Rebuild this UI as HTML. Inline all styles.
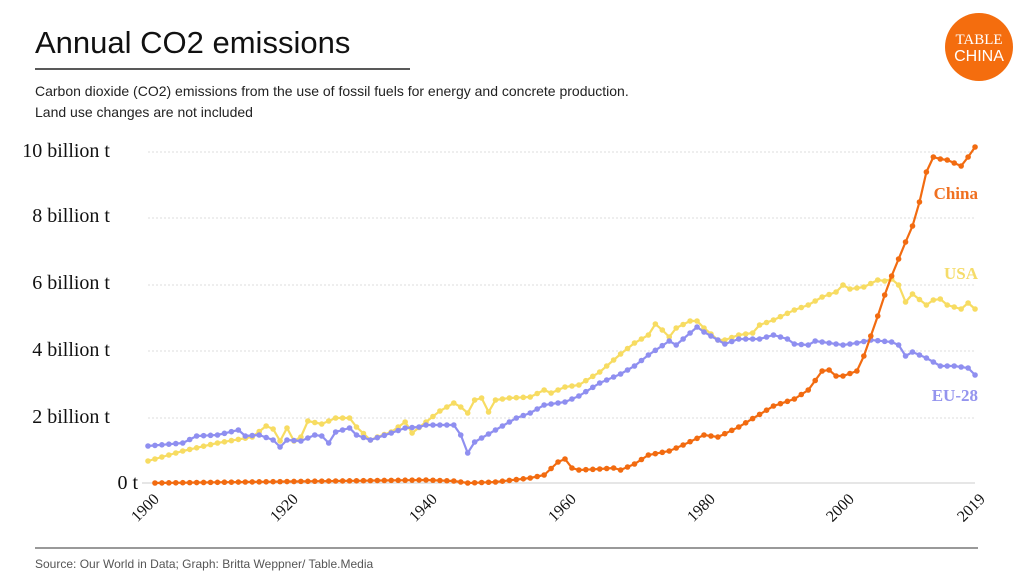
<!DOCTYPE html>
<html><head><meta charset="utf-8"><style>
body{margin:0;width:1024px;height:576px;background:#fff;overflow:hidden;font-family:"Liberation Sans",sans-serif}
</style></head><body>
<svg id="s" width="1024" height="576" xmlns="http://www.w3.org/2000/svg">
<text x="35" y="53" font-size="31" fill="#111" font-family="Liberation Sans">Annual CO2 emissions</text>
<line x1="35" y1="69" x2="410" y2="69" stroke="#222" stroke-width="1.5"/>
<text x="35" y="96" font-size="14" fill="#222">Carbon dioxide (CO2) emissions from the use of fossil fuels for energy and concrete production.</text>
<text x="35" y="117" font-size="14" fill="#222">Land use changes are not included</text>
<circle cx="979" cy="47" r="34" fill="#f46d0e"/>
<text x="979" y="44" font-size="15" fill="#fff" text-anchor="middle" font-family="Liberation Serif">TABLE</text>
<text x="979" y="61" font-size="16" fill="#fff" text-anchor="middle" font-family="Liberation Sans">CHINA</text>
<g font-family="Liberation Serif" font-size="20" fill="#111" text-anchor="end">
<text x="110" y="157">10 billion t</text>
<text x="110" y="222">8 billion t</text>
<text x="110" y="289">6 billion t</text>
<text x="110" y="356">4 billion t</text>
<text x="110" y="423">2 billion t</text>
<text x="138" y="489">0 t</text>
</g>
<g stroke="#ddd" stroke-dasharray="2,2" stroke-width="1">
<line x1="148" y1="152" x2="975" y2="152"/><line x1="148" y1="218" x2="975" y2="218"/>
<line x1="148" y1="285" x2="975" y2="285"/><line x1="148" y1="351" x2="975" y2="351"/>
<line x1="148" y1="418" x2="975" y2="418"/>
</g>
<line x1="142" y1="483" x2="975" y2="483" stroke="#ccc"/>
<g font-family="Liberation Serif" font-size="16" fill="#111" text-anchor="end">
<text transform="translate(160,500) rotate(-45)">1900</text>
<text transform="translate(299,500) rotate(-45)">1920</text>
<text transform="translate(438,500) rotate(-45)">1940</text>
<text transform="translate(577,500) rotate(-45)">1960</text>
<text transform="translate(716,500) rotate(-45)">1980</text>
<text transform="translate(855,500) rotate(-45)">2000</text>
<text transform="translate(986,500) rotate(-45)">2019</text>
</g>
<line x1="35" y1="548" x2="978" y2="548" stroke="#333" stroke-width="1"/>
<text x="35" y="568" font-size="12" fill="#555">Source: Our World in Data; Graph: Britta Weppner/ Table.Media</text>
<g font-family="Liberation Serif" font-weight="bold" font-size="17">
<text x="978" y="199" fill="#f07020" text-anchor="end">China</text>
<text x="978" y="279" fill="#f5dc6a" text-anchor="end">USA</text>
<text x="978" y="401" fill="#9494ee" text-anchor="end">EU-28</text>
</g>
<g id="d"></g>
</svg>
<script>
var china={1901:483,1940:480,1944:481,1946:483,1950:482,1955:478,1957:475,1959:462,1960:459,1961:468,1962:470,1965:469,1967:468,1968:470,1970:464,1972:455,1975:451,1977:445,1980:435,1982:437,1985:427,1990:406,1993:399,1995:390,1997:371,1998:370,1999:376,2000:376,2002:371,2003:356,2004:336,2005:316,2006:295,2007:276,2008:259,2009:242,2010:226,2011:202,2012:172,2013:157,2014:159,2015:160,2016:163,2017:166,2018:157,2019:147};
var usa={1900:461,1905:451,1910:443,1915:437,1917:426,1918:429,1919:441,1920:428,1921:441,1922:437,1923:421,1925:424,1927:418,1929:418,1930:427,1932:440,1933:437,1935:432,1937:422,1938:433,1940:422,1942:411,1944:403,1945:407,1946:413,1947:400,1948:398,1949:412,1950:400,1952:398,1955:397,1957:390,1958:393,1960:387,1962:385,1965:372,1968:354,1970:343,1972:335,1973:324,1974:330,1975:337,1976:328,1978:321,1979:321,1980:328,1982:340,1983:340,1985:335,1987:333,1988:325,1990:320,1993:310,1995:305,1997:297,1999:292,2000:285,2001:289,2003:287,2005:280,2006:281,2007:279,2008:285,2009:302,2010:294,2012:305,2013:300,2014:299,2015:305,2017:309,2018:303,2019:309};
var eu={1900:446,1905:443,1907:436,1910:435,1913:430,1914:436,1916:435,1918:440,1919:447,1920:440,1922:441,1924:435,1925:436,1926:443,1927:432,1929:428,1930:435,1932:440,1935:433,1937:428,1939:427,1940:425,1944:425,1945:435,1946:453,1947:442,1950:430,1953:418,1955:413,1957:405,1960:402,1962:396,1965:383,1968:374,1970:366,1972:355,1975:341,1976:345,1977:339,1979:327,1980:332,1982:340,1983:344,1985:339,1988:339,1990:335,1992:339,1993:344,1995:345,1996:341,1998:343,2000:345,2002:343,2004:340,2007:342,2008:345,2009:356,2010:352,2012:358,2014:366,2016:366,2018:368,2019:375};
var g=document.getElementById('d'),ns='http://www.w3.org/2000/svg';
function draw(k,c){var ys=Object.keys(k).map(Number).sort(function(a,b){return a-b});var pts=[];
for(var y=ys[0];y<=2019;y++){var i=0;while(i<ys.length-1&&ys[i+1]<y)i++;var a=ys[i],b=ys[Math.min(i+1,ys.length-1)];var v=a==b?k[a]:k[a]+(k[b]-k[a])*(y-a)/(b-a);if(y==a)v=k[a];pts.push([148+(y-1900)*6.95,v]);}
var p=document.createElementNS(ns,'polyline');p.setAttribute('points',pts.map(function(q){return q[0].toFixed(1)+','+q[1].toFixed(1)}).join(' '));p.setAttribute('fill','none');p.setAttribute('stroke',c);p.setAttribute('stroke-width','2.2');g.appendChild(p);
pts.forEach(function(q){var e=document.createElementNS(ns,'circle');e.setAttribute('cx',q[0]);e.setAttribute('cy',q[1]);e.setAttribute('r','2.8');e.setAttribute('fill',c);g.appendChild(e);});}
draw(usa,'#f7dc62');draw(eu,'#8f8ff0');draw(china,'#f26b10');
</script>
</body></html>
